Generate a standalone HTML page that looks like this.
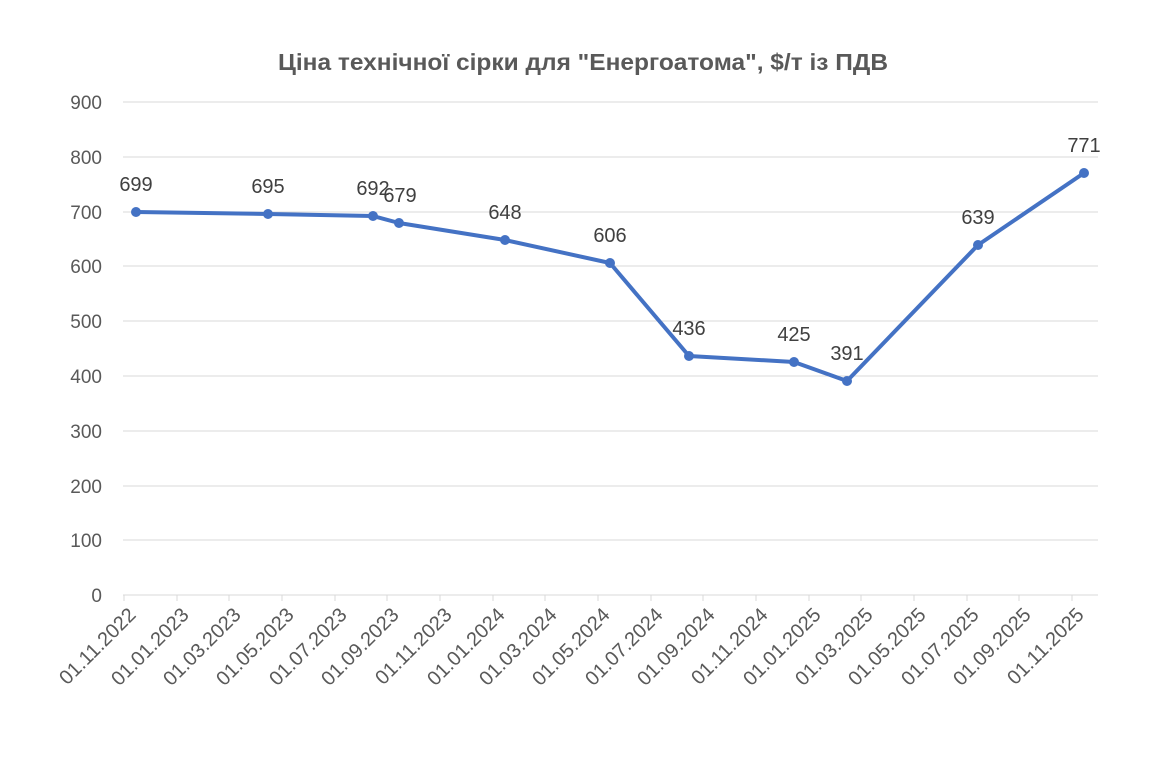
<!DOCTYPE html>
<html><head><meta charset="utf-8"><style>
body{margin:0;background:#fff;}
svg{display:block;font-family:"Liberation Sans","DejaVu Sans",sans-serif;}
</style></head><body>
<svg width="1173" height="760" viewBox="0 0 1173 760">
<rect width="1173" height="760" fill="#fff"/>
<text x="583" y="70" text-anchor="middle" font-size="23" font-weight="bold" fill="#595959" textLength="610" lengthAdjust="spacingAndGlyphs">Ціна технічної сірки для "Енергоатома", $/т із ПДВ</text>
<g stroke="#d9d9d9" stroke-width="1">
<line x1="123" x2="1098" y1="102" y2="102"/>
<line x1="123" x2="1098" y1="157" y2="157"/>
<line x1="123" x2="1098" y1="212" y2="212"/>
<line x1="123" x2="1098" y1="266" y2="266"/>
<line x1="123" x2="1098" y1="321" y2="321"/>
<line x1="123" x2="1098" y1="376" y2="376"/>
<line x1="123" x2="1098" y1="431" y2="431"/>
<line x1="123" x2="1098" y1="486" y2="486"/>
<line x1="123" x2="1098" y1="540" y2="540"/>
<line x1="123" x2="1098" y1="595" y2="595"/>
</g>
<g font-size="19" fill="#595959" text-anchor="end">
<text x="102" y="109">900</text><text x="102" y="164">800</text><text x="102" y="219">700</text>
<text x="102" y="273">600</text><text x="102" y="328">500</text><text x="102" y="383">400</text>
<text x="102" y="438">300</text><text x="102" y="493">200</text><text x="102" y="547">100</text>
<text x="102" y="602">0</text>
</g>
<g stroke="#d9d9d9">
<line x1="124" x2="124" y1="595" y2="601"/><line x1="177" x2="177" y1="595" y2="601"/><line x1="229" x2="229" y1="595" y2="601"/><line x1="282" x2="282" y1="595" y2="601"/><line x1="335" x2="335" y1="595" y2="601"/><line x1="387" x2="387" y1="595" y2="601"/><line x1="440" x2="440" y1="595" y2="601"/><line x1="493" x2="493" y1="595" y2="601"/><line x1="545" x2="545" y1="595" y2="601"/><line x1="598" x2="598" y1="595" y2="601"/><line x1="651" x2="651" y1="595" y2="601"/><line x1="703" x2="703" y1="595" y2="601"/><line x1="756" x2="756" y1="595" y2="601"/><line x1="809" x2="809" y1="595" y2="601"/><line x1="861" x2="861" y1="595" y2="601"/><line x1="914" x2="914" y1="595" y2="601"/><line x1="967" x2="967" y1="595" y2="601"/><line x1="1019" x2="1019" y1="595" y2="601"/><line x1="1072" x2="1072" y1="595" y2="601"/>
</g>
<g font-size="20" fill="#595959" text-anchor="end">
<text transform="translate(137,616) rotate(-45)">01.11.2022</text>
<text transform="translate(190,616) rotate(-45)">01.01.2023</text>
<text transform="translate(242,616) rotate(-45)">01.03.2023</text>
<text transform="translate(295,616) rotate(-45)">01.05.2023</text>
<text transform="translate(348,616) rotate(-45)">01.07.2023</text>
<text transform="translate(400,616) rotate(-45)">01.09.2023</text>
<text transform="translate(453,616) rotate(-45)">01.11.2023</text>
<text transform="translate(506,616) rotate(-45)">01.01.2024</text>
<text transform="translate(558,616) rotate(-45)">01.03.2024</text>
<text transform="translate(611,616) rotate(-45)">01.05.2024</text>
<text transform="translate(664,616) rotate(-45)">01.07.2024</text>
<text transform="translate(716,616) rotate(-45)">01.09.2024</text>
<text transform="translate(769,616) rotate(-45)">01.11.2024</text>
<text transform="translate(822,616) rotate(-45)">01.01.2025</text>
<text transform="translate(874,616) rotate(-45)">01.03.2025</text>
<text transform="translate(927,616) rotate(-45)">01.05.2025</text>
<text transform="translate(980,616) rotate(-45)">01.07.2025</text>
<text transform="translate(1032,616) rotate(-45)">01.09.2025</text>
<text transform="translate(1085,616) rotate(-45)">01.11.2025</text>
</g>
<polyline fill="none" stroke="#4472c4" stroke-width="4" stroke-linejoin="round" points="136,212 268,214 373,216 399,223 505,240 610,263 689,356 794,362 847,381 978,245 1084,173"/>
<g fill="#4472c4">
<circle cx="136" cy="212" r="5"/><circle cx="268" cy="214" r="5"/><circle cx="373" cy="216" r="5"/><circle cx="399" cy="223" r="5"/><circle cx="505" cy="240" r="5"/><circle cx="610" cy="263" r="5"/><circle cx="689" cy="356" r="5"/><circle cx="794" cy="362" r="5"/><circle cx="847" cy="381" r="5"/><circle cx="978" cy="245" r="5"/><circle cx="1084" cy="173" r="5"/>
</g>
<g font-size="20" fill="#404040" text-anchor="middle">
<text x="136" y="191">699</text><text x="268" y="193">695</text><text x="373" y="195">692</text><text x="400" y="202">679</text><text x="505" y="219">648</text><text x="610" y="242">606</text><text x="689" y="335">436</text><text x="794" y="341">425</text><text x="847" y="360">391</text><text x="978" y="224">639</text><text x="1084" y="152">771</text>
</g>
</svg>
</body></html>
